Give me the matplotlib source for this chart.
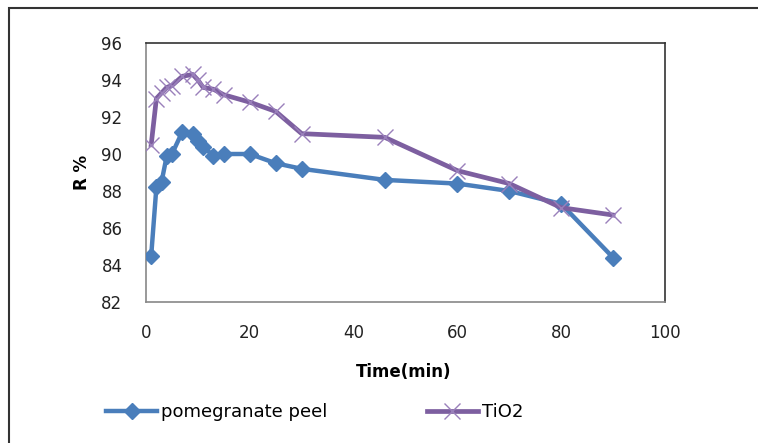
import matplotlib
matplotlib.use("Agg")
import matplotlib.pyplot as plt
from matplotlib.patches import Rectangle

# time (min) and R % for both samples
time_min = [1, 2, 3, 4, 5, 7, 9, 10, 11, 13, 15, 20, 25, 30, 46, 60, 70, 80, 90]
pomegranate = [84.5, 88.2, 88.5, 89.9, 90.0, 91.2, 91.1, 90.7, 90.4, 89.9, 90.0,
               90.0, 89.5, 89.2, 88.6, 88.4, 88.0, 87.3, 84.4]
tio2 = [90.5, 93.0, 93.3, 93.6, 93.7, 94.2, 94.3, 94.0, 93.6, 93.5, 93.2,
        92.8, 92.3, 91.1, 90.9, 89.1, 88.4, 87.1, 86.7]

x_ticks = [0, 20, 40, 60, 80, 100]
y_ticks = [82, 84, 86, 88, 90, 92, 94, 96]

plt.rcParams['font.family'] = ['DejaVu Sans']

W, H = 758, 443
fig = plt.figure(figsize=(W / 100, H / 100), dpi=100)
ax = fig.add_axes([146 / W, 1 - 302 / H, (665 - 146) / W, (302 - 43) / H])

ax.plot(time_min, pomegranate, color='#4a7ebb', lw=3.2, marker='D', ms=8,
        label='pomegranate peel', zorder=3)
ax.plot(time_min, tio2, color='#7d5fa0', lw=3.4, marker='x', ms=12, mew=1.0,
        mec='#9a80bb', label='TiO2', zorder=3)

ax.set_xlim(0, 100)
ax.set_ylim(82, 96)
ax.set_xticks(x_ticks)
ax.set_yticks(y_ticks)
ax.tick_params(length=0, labelsize=12, colors='#222222')
ax.tick_params(axis='x', pad=16)
ax.tick_params(axis='y', pad=17)
for side in ax.spines:
    ax.spines[side].set_color('#888888')
    ax.spines[side].set_linewidth(1.2)
ax.spines['right'].set_color('#333333')
ax.spines['top'].set_color('#333333')

fig.text(82 / W, 1 - 172 / H, 'R %', rotation=90, fontsize=12, fontweight='bold',
         ha='center', va='center')
fig.text(404 / W, 1 - 372 / H, 'Time(min)', fontsize=12, fontweight='bold',
         ha='center', va='center')

fig.legend(loc='center left', bbox_to_anchor=(90 / W, 1 - 412 / H), ncol=2,
           frameon=False, fontsize=13, handlelength=2.8, handletextpad=0.25,
           columnspacing=5.5)

# outer chart border
fig.patches.append(Rectangle((9 / W, -0.05), 1.2, 1.05 - 8 / H, transform=fig.transFigure,
                             fill=False, edgecolor='#333333', lw=1.5))

fig.savefig('out.png', dpi=100)
